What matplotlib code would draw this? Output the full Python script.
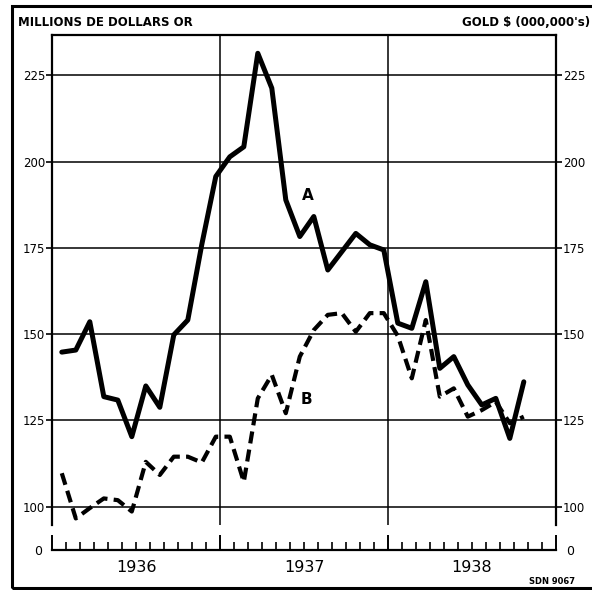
import numpy as np
import matplotlib
matplotlib.use("Agg")
from matplotlib import pyplot as plt
from matplotlib.patches import Rectangle

# monthly gold values, Jan 1936 - Oct 1938 (millions of dollars)
gold_a = [144.8, 145.4, 153.6, 131.9, 130.9, 120.3, 135.0, 128.8, 149.8, 154.1,
          176.0, 195.7, 201.4, 204.3, 231.4, 221.3, 188.9, 178.3, 184.1, 168.6,
          173.9, 179.2, 175.9, 174.4, 153.2, 151.7, 165.2, 140.1, 143.5, 135.3,
          129.5, 131.4, 119.8, 136.2]
gold_b = [109.7, 96.6, 99.6, 102.4, 101.9, 98.6, 113.0, 109.2, 114.5, 114.5,
          112.8, 120.3, 120.3, 107.2, 131.4, 138.2, 127.1, 143.5, 151.2, 155.6,
          156.1, 150.7, 156.1, 156.1, 149.5, 137.2, 154.1, 131.9, 134.3, 126.1,
          128.0, 130.4, 124.2, 126.1]
years = ["1936", "1937", "1938"]
y_ticks = [100, 125, 150, 175, 200, 225]

W, H = 592, 590


def box(l, t, r, b):
    # pixel box -> figure fraction
    return [l / W, 1 - b / H, (r - l) / W, (b - t) / H]


fig = plt.figure(figsize=(W / 100, H / 100), dpi=100)
plt.rcParams['font.family'] = ['DejaVu Sans']

ax = fig.add_axes(box(52, 35, 556, 525))
x = np.arange(len(gold_a)) + 0.7
ax.plot(x, gold_a, color='black', lw=3.6, solid_joinstyle='round', solid_capstyle='round')
ax.plot(x, gold_b, color='black', lw=3.0, dashes=(2.9, 1.5), dash_capstyle='butt')

ax.set_xlim(0, 12 * len(years))
ax.set_ylim(94.7, 236.7)
ax.set_yticks(y_ticks)
ax.set_xticks([12, 24])
ax.tick_params(axis='x', bottom=False, labelbottom=False)
ax.tick_params(axis='y', left=True, right=True, labelleft=True, labelright=True,
               length=4, width=1.2, labelsize=8.5, pad=1)
ax.grid(True, color='black', lw=1.1)
ax.spines['bottom'].set_visible(False)
for s in ['left', 'right', 'top']:
    ax.spines[s].set_linewidth(1.6)

ax.text(18.3, 190.3, "A", fontsize=11, fontweight='bold', ha='center', va='center')
ax.text(18.2, 131.1, "B", fontsize=11, fontweight='bold', ha='center', va='center')

# lower strip: time axis with the zero baseline
ax2 = fig.add_axes(box(52, 530, 556, 550))
ax2.set_xlim(0, 12 * len(years))
ax2.set_ylim(0, 1)
for s in ['left', 'right', 'top']:
    ax2.spines[s].set_visible(False)
ax2.spines['bottom'].set_linewidth(1.6)
ax2.set_xticks(np.arange(0, 12 * len(years) + 1, 12))
ax2.set_xticks(np.arange(0, 12 * len(years) + 1), minor=True)
ax2.tick_params(axis='x', which='major', direction='in', length=11, width=1.4, labelbottom=False)
ax2.tick_params(axis='x', which='minor', direction='in', length=5.5, width=1.2)
ax2.set_yticks([0])
ax2.set_yticklabels(["0"])
ax2.tick_params(axis='y', left=False, right=False, labelleft=True, labelright=True,
                labelsize=9, pad=3.5)
for k, yr in enumerate(years):
    ax2.text(6 + 12 * k, -0.9, yr, transform=ax2.get_xaxis_transform(),
             ha='center', va='center', fontsize=11.5)

# outer frame and headings
fig.add_artist(Rectangle((12 / W, 1 - 588 / H), 600 / W, 582 / H, transform=fig.transFigure,
                         fill=False, lw=2.2, color='black', clip_on=False))
fig.text(18 / W, 1 - 22 / H, "MILLIONS DE DOLLARS OR", ha='left', va='center',
         fontsize=8.5, fontweight='bold')
fig.text(590 / W, 1 - 22 / H, "GOLD $ (000,000's)", ha='right', va='center',
         fontsize=8.5, fontweight='bold')
fig.text(575 / W, 1 - 581 / H, "SDN 9067", ha='right', va='center',
         fontsize=6, fontweight='bold')

fig.savefig("out.png", dpi=100)
